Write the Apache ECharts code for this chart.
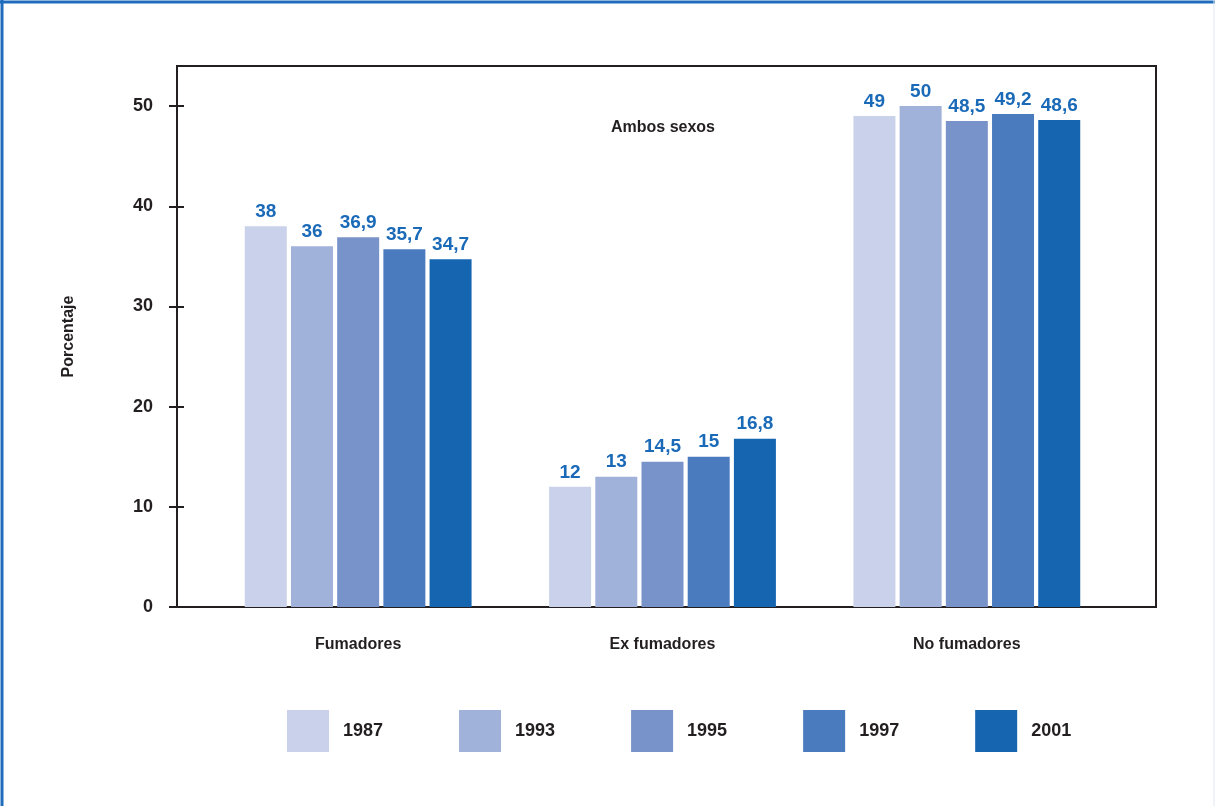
<!DOCTYPE html>
<html>
<head>
<meta charset="utf-8">
<script src="https://cdn.jsdelivr.net/npm/echarts@6/dist/echarts.min.js"></script>
<style>
  html, body { margin: 0; padding: 0; background: #fff; }
  #chart { width: 1215px; height: 806px; }
</style>
</head>
<body>
<div id="chart"></div>
<script>
  // data
  const categories = ['Fumadores', 'Ex fumadores', 'No fumadores'];
  const years = ['1987', '1993', '1995', '1997', '2001'];
  const v1987 = [38, 12, 49];
  const v1993 = [36, 13, 50];
  const v1995 = [36.9, 14.5, 48.5];
  const v1997 = [35.7, 15, 49.2];
  const v2001 = [34.7, 16.8, 48.6];
  const yTicks = [0, 10, 20, 30, 40, 50];

  const values = [v1987, v1993, v1995, v1997, v2001];
  const colors = ['#c9d2ea', '#a0b1da', '#7893c9', '#4b7bbf', '#1565b1'];
  const font = '"Liberation Sans", Arial, sans-serif';
  const dark = '#231f20';

  const chart = echarts.init(document.getElementById('chart'));

  const series = years.map(function (y, i) {
    return {
      name: y,
      type: 'bar',
      xAxisIndex: 1,
      yAxisIndex: 2,
      barWidth: 42,
      barGap: '10%',
      itemStyle: { color: colors[i] },
      label: {
        show: true,
        position: 'top',
        distance: 5,
        color: '#1a6ab8',
        fontFamily: font,
        fontWeight: 'bold',
        fontSize: 19,
        formatter: function (p) { return String(p.value).replace('.', ','); }
      },
      data: values[i]
    };
  });

  chart.setOption({
    animation: false,
    backgroundColor: '#fff',
    graphic: [
      { type: 'line', shape: { x1: 0, y1: 2, x2: 1215, y2: 2 }, style: { stroke: '#1f6cbc', lineWidth: 3 } },
      { type: 'line', shape: { x1: 2, y1: 0, x2: 2, y2: 806 }, style: { stroke: '#1f6cbc', lineWidth: 3 } },
      { type: 'line', shape: { x1: 1214, y1: 0, x2: 1214, y2: 806 }, style: { stroke: '#dde8f5', lineWidth: 1 } },
      {
        type: 'text', x: 663, y: 128,
        style: {
          text: 'Ambos sexos', fill: dark, fontFamily: font, fontWeight: 'bold', fontSize: 16,
          textAlign: 'center', textVerticalAlign: 'middle'
        }
      }
    ],
    legend: {
      data: years,
      left: 287,
      top: 710,
      padding: 0,
      icon: 'rect',
      itemWidth: 42,
      itemHeight: 42,
      itemGap: 76,
      textStyle: { color: dark, fontFamily: font, fontWeight: 'bold', fontSize: 18, padding: [0, 0, 0, 9] }
    },
    grid: [
      // frame with the y scale
      { left: 177, top: 66, width: 979, height: 541, show: true, borderColor: dark, borderWidth: 2, backgroundColor: 'transparent' },
      // bars
      { left: 206, top: 66, width: 913, height: 541 }
    ],
    xAxis: [
      { gridIndex: 0, type: 'value', min: 0, max: 1, show: false },
      {
        gridIndex: 1, type: 'category', data: categories,
        axisLine: { show: false }, axisTick: { show: false },
        axisLabel: { margin: 30, color: dark, fontFamily: font, fontWeight: 'bold', fontSize: 16 }
      }
    ],
    yAxis: [
      {
        gridIndex: 0, type: 'value', min: 0, max: 54, interval: 10,
        name: 'Porcentaje', nameLocation: 'middle', nameGap: 100, nameRotate: 90,
        nameTextStyle: { color: dark, fontFamily: font, fontWeight: 'bold', fontSize: 16 },
        axisLine: { show: true, lineStyle: { color: dark, width: 2 } },
        axisTick: { show: true, length: 8, lineStyle: { color: dark, width: 2 } },
        splitLine: { show: false },
        axisLabel: {
          margin: 24, color: dark, fontFamily: font, fontWeight: 'bold', fontSize: 18, showMaxLabel: false,
          formatter: function (v) { return yTicks.indexOf(v) >= 0 ? String(v) : ''; }
        }
      },
      {
        gridIndex: 0, type: 'value', min: 0, max: 54, interval: 10, position: 'left',
        axisLine: { show: false },
        axisTick: { show: true, inside: true, length: 7, lineStyle: { color: dark, width: 2 } },
        axisLabel: { show: false }, splitLine: { show: false }
      },
      { gridIndex: 1, type: 'value', min: 0, max: 54, show: false }
    ],
    series: series
  });

  window.onresize = function () {
    chart.resize();
  };
</script>
</body>
</html>
